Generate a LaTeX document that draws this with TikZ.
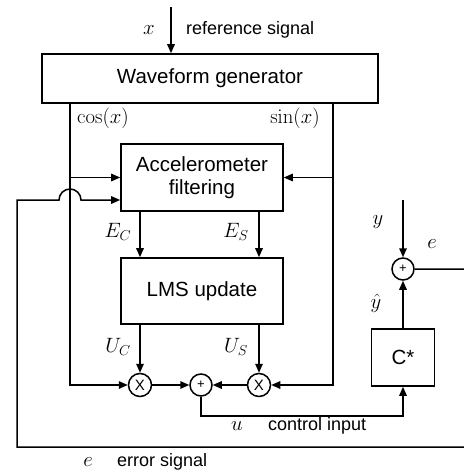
\documentclass[tikz,border=0pt]{standalone}
\usepackage[no-math]{fontspec}
\setmainfont{Liberation Sans}
\usetikzlibrary{arrows.meta,calc}
\begin{document}
\begin{tikzpicture}[x=1pt,y=-1pt,
  box/.style={draw,line width=1.6pt,rectangle,inner sep=0pt,font=\fontsize{20.5}{24}\selectfont,align=center},
  junc/.style={draw,line width=1.5pt,circle,inner sep=0pt},
  arr/.style={line width=1.5pt,-{Triangle[length=9pt,width=7.5pt]}},
  lbl/.style={font=\fontsize{18}{21}\selectfont,inner sep=0pt},
  mlbl/.style={font=\fontsize{22}{26}\selectfont,inner sep=0pt}]
\useasboundingbox (0,0) rectangle (464,475);
% blocks
\node[box,minimum width=336pt,minimum height=49pt] (wg) at (210,78.5) {Waveform generator};
\node[box,minimum width=162pt,minimum height=67pt] (acc) at (202,177.5) {Accelerometer\\[-1pt]filtering};
\node[box,minimum width=162pt,minimum height=66pt] (lms) at (202,291) {LMS update};
\node[box,minimum width=63pt,minimum height=57pt] (cs) at (403,357.5) {C*};
% junctions
\node[junc,minimum size=23pt,font=\fontsize{15}{16}\selectfont] (m1) at (140,385) {X};
\node[junc,minimum size=23pt,font=\fontsize{15}{16}\selectfont] (m2) at (259,385) {X};
\node[junc,minimum size=22pt,font=\fontsize{13}{14}\selectfont] (s1) at (201,385) {+};
\node[junc,minimum size=22pt,font=\fontsize{13}{14}\selectfont] (s2) at (403,269) {+};
% coordinates
\coordinate (xin) at (171,7);
\coordinate (cl) at (70,103);
\coordinate (sr) at (333,103);
\coordinate (fb) at (17,200);
\coordinate (uu) at (0,416);
\coordinate (yin) at (403,200);
% connectors
\draw[arr] (xin) -- (xin |- wg.north);
\draw[arr] (cl) |- (m1);
\draw[arr] (sr) |- (m2);
\draw[arr] (cl |- acc.west) -- (acc.west);
\draw[arr] (sr |- acc.east) -- (acc.east);
\draw[arr] (acc.south -| m1) -- (lms.north -| m1);
\draw[arr] (acc.south -| m2) -- (lms.north -| m2);
\draw[arr] (lms.south -| m1) -- (m1);
\draw[arr] (lms.south -| m2) -- (m2);
\draw[arr] (m1) -- (s1);
\draw[arr] (m2) -- (s1);
\draw[arr] (s1) -- (s1 |- uu) -| (cs.south);
\draw[arr] (cs) -- (s2);
\draw[arr] (yin) -- (s2);
\draw[arr] (s2.east) -- (468,269) -- (468,447) -- (17,447) -- (fb) -- (59,200)
  arc[start angle=180,end angle=360,radius=11] -- (acc.west |- fb);
% labels
\node[mlbl] (lx) at (149,30) {$x$};
\node[lbl,anchor=west] (lref) at (186,30) {reference signal};
\node[mlbl] (lcos) at (103,118) {$\cos(x)$};
\node[mlbl] (lsin) at (295,118) {$\sin(x)$};
\node[mlbl] (lec) at (118,232) {$E_C$};
\node[mlbl] (les) at (236,232) {$E_S$};
\node[mlbl] (luc) at (118,347) {$U_C$};
\node[mlbl] (lus) at (236,347) {$U_S$};
\node[mlbl] (ly) at (378,222) {$y$};
\node[mlbl] (le) at (432,244) {$e$};
\node[mlbl] (lyh) at (376,303) {$\hat{y}$};
\node[mlbl] (lu) at (237,426) {$u$};
\node[lbl,anchor=west] (lci) at (268,426) {control input};
\node[mlbl] (le2) at (88,462) {$e$};
\node[lbl,anchor=west] (les2) at (117,462) {error signal};
\end{tikzpicture}
\end{document}
